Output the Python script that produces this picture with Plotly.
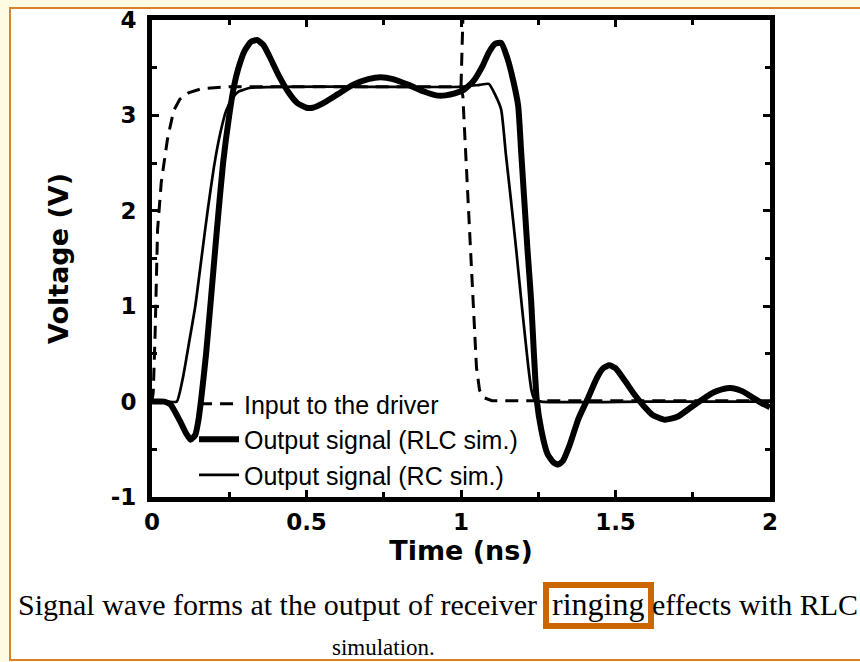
import plotly.graph_objects as go

# ---------------- data ----------------
in_t = [0, 0.004, 0.01, 0.018, 0.03, 0.05, 0.07, 0.09, 0.12, 0.16, 0.25, 0.5, 0.8, 1.0,
        1.006, 1.02, 1.035, 1.05, 1.06, 1.075, 1.1, 1.3, 1.6, 2.0]
in_v = [0, 0.1, 0.7, 1.8, 2.3, 2.75, 3.05, 3.17, 3.24, 3.28, 3.3, 3.3, 3.3, 3.3,
        3.2, 2.3, 1.3, 0.36, 0.12, 0.04, 0.01, 0.01, 0.01, 0.01]

# dashed extension of the input edge above the 3.3 V level at t = 1 ns
edge_t = [1.0, 1.006]
edge_v = [3.3, 4.0]

rlc_t = [0, 0.04, 0.06, 0.09, 0.11, 0.125, 0.14, 0.15, 0.16, 0.175, 0.19, 0.21, 0.23,
         0.25, 0.265, 0.28, 0.30, 0.32, 0.34, 0.36, 0.38, 0.41, 0.44, 0.47, 0.50, 0.52,
         0.55, 0.60, 0.65, 0.70, 0.74, 0.78, 0.83, 0.88, 0.92, 0.95, 0.98, 1.01, 1.04,
         1.07, 1.09, 1.11, 1.13, 1.15, 1.17, 1.185, 1.195, 1.205, 1.215, 1.227, 1.236,
         1.245, 1.26, 1.28, 1.30, 1.315, 1.33, 1.35, 1.38, 1.41, 1.44, 1.46, 1.48, 1.50,
         1.53, 1.56, 1.59, 1.62, 1.66, 1.70, 1.74, 1.78, 1.82, 1.86, 1.88, 1.91, 1.94,
         1.97, 2.0]
rlc_v = [0, 0, -0.03, -0.2, -0.33, -0.4, -0.35, -0.2, 0.05, 0.5, 1.05, 1.8, 2.5,
         3.0, 3.3, 3.5, 3.68, 3.77, 3.79, 3.74, 3.62, 3.42, 3.25, 3.13, 3.08, 3.08,
         3.12, 3.22, 3.32, 3.38, 3.4, 3.38, 3.32, 3.25, 3.21, 3.21, 3.23, 3.27, 3.36,
         3.52, 3.66, 3.75, 3.76, 3.6, 3.35, 3.1, 2.6, 2.1, 1.6, 1.06, 0.5,
         0.02, -0.3, -0.55, -0.64, -0.66, -0.62, -0.47, -0.18, 0.03, 0.25, 0.35, 0.38, 0.35,
         0.22, 0.08, -0.04, -0.14, -0.19, -0.16, -0.07, 0.02, 0.1, 0.14, 0.14, 0.11, 0.05,
         -0.01, -0.06]

rc_t = [0, 0.05, 0.08, 0.10, 0.12, 0.14, 0.16, 0.18, 0.20, 0.22, 0.24, 0.26, 0.28,
        0.32, 0.40, 0.7, 1.0, 1.06, 1.09, 1.11, 1.13, 1.145, 1.162, 1.18, 1.195, 1.21,
        1.218, 1.228, 1.237, 1.26, 1.6, 2.0]
rc_v = [0, 0, 0, 0.25, 0.62, 1.0, 1.5, 2.0, 2.45, 2.8, 3.05, 3.18, 3.25,
        3.29, 3.3, 3.3, 3.3, 3.32, 3.33, 3.22, 3.06, 2.6, 2.1, 1.55, 1.06, 0.6,
        0.36, 0.12, 0.03, 0.0, 0.0, 0.0]

x_ticks = [0, 0.5, 1, 1.5, 2]
x_ticklabels = ["0", "0.5", "1", "1.5", "2"]
y_ticks = [-1, 0, 1, 2, 3, 4]
y_ticklabels = ["-1", "0", "1", "2", "3", "4"]

names = ["Input to the driver", "Output signal (RLC sim.)", "Output signal (RC sim.)"]
caption_1 = "Signal wave forms at the output of receiver"
caption_word = "ringing"
caption_2 = "effects with RLC"
caption_3 = "simulation."

# ---------------- figure ----------------
W, H = 860, 662
L, R, T, B = 152, 90, 20, 165
PW, PH = W - L - R, H - T - B

fig = go.Figure()
fig.add_trace(go.Scatter(x=in_t, y=in_v, mode="lines", name=names[0],
                         line=dict(color="black", width=3, dash="13px,8px")))
fig.add_trace(go.Scatter(x=rlc_t, y=rlc_v, mode="lines", name=names[1],
                         line=dict(color="black", width=6, shape="spline", smoothing=0.5)))
fig.add_trace(go.Scatter(x=rc_t, y=rc_v, mode="lines", name=names[2],
                         line=dict(color="black", width=2.7, shape="spline", smoothing=0.5)))
fig.add_trace(go.Scatter(x=edge_t, y=edge_v, mode="lines", showlegend=False,
                         line=dict(color="black", width=3, dash="13px,8px")))

tickfont = dict(family="DejaVu Sans", size=23, color="black", weight="bold")
titlefont = dict(family="DejaVu Sans", size=27, color="black", weight="bold")

fig.update_xaxes(range=[0, 2], tickvals=x_ticks, ticktext=x_ticklabels,
                 ticks="inside", ticklen=7, tickwidth=3, tickcolor="black",
                 showline=True, linewidth=5, linecolor="black", mirror="ticks",
                 showgrid=False, zeroline=False, tickfont=tickfont,
                 minor=dict(ticks="inside", dtick=0.25, tick0=0, ticklen=5, tickwidth=3,
                            tickcolor="black", showgrid=False),
                 title=dict(text="Time (ns)", font=titlefont, standoff=8))
fig.update_yaxes(range=[-1, 4], tickvals=y_ticks, ticktext=y_ticklabels,
                 ticks="inside", ticklen=7, tickwidth=3, tickcolor="black",
                 showline=True, linewidth=5, linecolor="black", mirror="ticks",
                 showgrid=False, zeroline=False, tickfont=tickfont, ticklabelstandoff=6,
                 minor=dict(ticks="inside", dtick=0.5, tick0=0, ticklen=5, tickwidth=3,
                            tickcolor="black", showgrid=False),
                 title=dict(text="Voltage (V)", font=titlefont, standoff=36))


def px(x):
    """figure pixel x -> paper coordinate"""
    return (x - L) / PW


def py(y):
    """figure pixel y (from top) -> paper coordinate"""
    return (H - B - y) / PH


shapes = [
    # white page with orange frame
    dict(type="rect", xref="paper", yref="paper", x0=px(10), x1=px(880), y0=py(660), y1=py(8),
         line=dict(color="#D9822B", width=2), fillcolor="white", layer="below"),
    # orange box around "ringing"
    dict(type="rect", xref="paper", yref="paper", x0=px(546), x1=px(651), y0=py(626), y1=py(585),
         line=dict(color="#CC6600", width=6), fillcolor="rgba(0,0,0,0)"),
]

serif = dict(family="Liberation Serif, Times New Roman", size=30, color="black")
annotations = [
    dict(text=caption_1, xref="paper", yref="paper", x=px(16), y=py(604), xanchor="left",
         yanchor="middle", showarrow=False, font=serif),
    dict(text=caption_word, xref="paper", yref="paper", x=px(598), y=py(604), xanchor="center",
         yanchor="middle", showarrow=False, font=dict(serif, size=32)),
    dict(text=caption_2, xref="paper", yref="paper", x=px(860), y=py(604), xanchor="right",
         yanchor="middle", showarrow=False, font=serif),
    dict(text=caption_3, xref="paper", yref="paper", x=px(383), y=py(647), xanchor="center",
         yanchor="middle", showarrow=False, font=dict(serif, size=23)),
]

fig.update_layout(
    width=W, height=H,
    margin=dict(l=L, r=R, t=T, b=B, autoexpand=False),
    paper_bgcolor="#FFFCE1", plot_bgcolor="white",
    shapes=shapes, annotations=annotations,
    showlegend=True,
    legend=dict(x=0.068, y=0.243, xanchor="left", yanchor="top",
                bgcolor="rgba(0,0,0,0)", borderwidth=0, tracegroupgap=0,
                font=dict(family="Liberation Sans, Arial", size=25, color="black"),
                itemwidth=40),
)

fig.write_html("out.html")
